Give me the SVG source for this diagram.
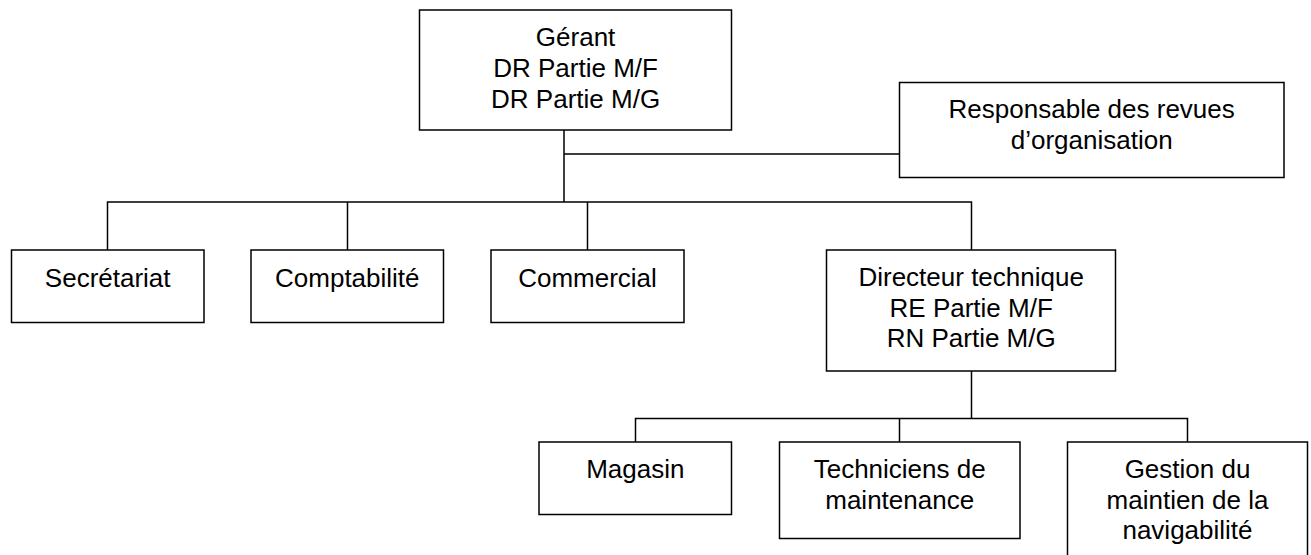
<svg xmlns="http://www.w3.org/2000/svg" width="1311" height="555" viewBox="0 0 1311 555">
<style>
.box{fill:#fff;stroke:#000;stroke-width:1.5}
.ln{fill:none;stroke:#000;stroke-width:1.5}
text{font-family:"Liberation Sans",Arial,sans-serif;font-size:26px;fill:#000;text-anchor:middle}
</style>
<rect width="1311" height="555" fill="#fff"/>
<g id="connectors">
<path class="ln" d="M564 130V202M564 154H899.5"/>
<path class="ln" d="M107.5 250V202H971.5V250M347.5 202V250M587.5 202V250"/>
<path class="ln" d="M971.5 371V418.5M635.5 442V418.5H1187.5V442M899.5 418.5V442"/>
</g>
<g id="gerant">
<rect class="box" x="419.5" y="10" width="312" height="120"/>
<text x="575.6" y="46">Gérant</text>
<text x="575.6" y="77">DR Partie M/F</text>
<text x="575.6" y="108">DR Partie M/G</text>
</g>
<g id="responsable">
<rect class="box" x="899.5" y="82.5" width="384.5" height="95"/>
<text x="1091.7" y="118.3">Responsable des revues</text>
<text x="1091.7" y="149.3">d’organisation</text>
</g>
<g id="secretariat">
<rect class="box" x="11.5" y="250" width="192.5" height="72.5"/>
<text x="107.7" y="286.5">Secrétariat</text>
</g>
<g id="comptabilite">
<rect class="box" x="251" y="250" width="192.5" height="72.5"/>
<text x="347.3" y="286.5">Comptabilité</text>
</g>
<g id="commercial">
<rect class="box" x="491" y="250" width="193" height="72.5"/>
<text x="587.5" y="286.5">Commercial</text>
</g>
<g id="directeur">
<rect class="box" x="826.5" y="250" width="289" height="121"/>
<text x="971.2" y="286">Directeur technique</text>
<text x="971.2" y="316.5">RE Partie M/F</text>
<text x="971.2" y="347">RN Partie M/G</text>
</g>
<g id="magasin">
<rect class="box" x="539" y="442" width="192.5" height="72.5"/>
<text x="635.3" y="478.3">Magasin</text>
</g>
<g id="techniciens">
<rect class="box" x="779.5" y="442" width="240.5" height="96.5"/>
<text x="899.7" y="478.3">Techniciens de</text>
<text x="899.7" y="508.5">maintenance</text>
</g>
<g id="gestion">
<rect class="box" x="1067.5" y="442" width="240" height="130"/>
<text x="1187.5" y="478.3">Gestion du</text>
<text x="1187.5" y="508.5">maintien de la</text>
<text x="1187.5" y="538.5">navigabilité</text>
</g>
</svg>
